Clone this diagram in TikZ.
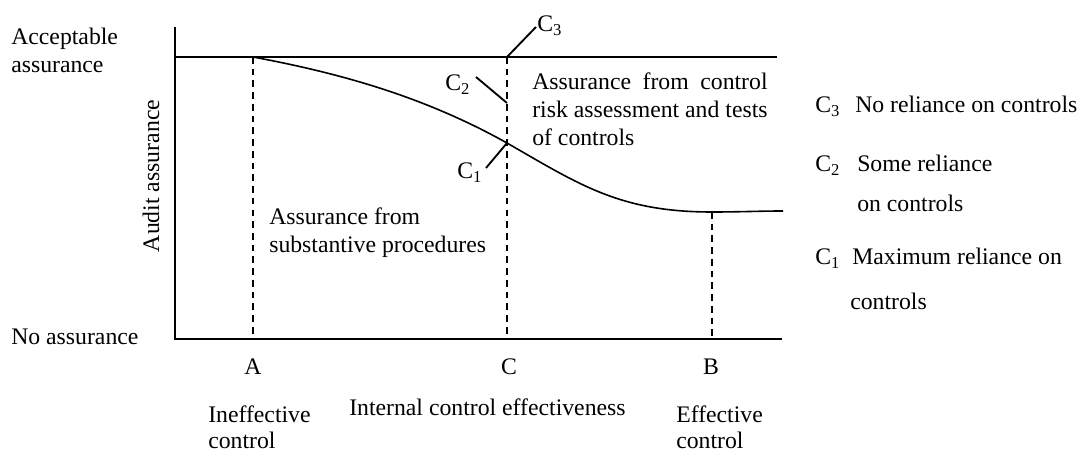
\documentclass[tikz,border=0pt]{standalone}
\usepackage{fontspec}
\setmainfont{Liberation Serif}
\begin{document}
\begin{tikzpicture}[x=0.75pt,y=-0.75pt,
  lbl/.style={font=\fontsize{17.8}{21}\selectfont, inner sep=0pt, anchor=base west},
  mid/.style={lbl, anchor=base},
  axis/.style={line width=1.5pt},
  guide/.style={line width=0.9pt, dash pattern=on 5pt off 3.8pt},
  curve/.style={line width=1.2pt},
  tick/.style={line width=1.4pt}]
\useasboundingbox (0,0) rectangle (1079,452);

% axes and the acceptable-assurance level
\coordinate (ytop) at (175,27);
\coordinate (orig) at (175,339);
\coordinate (xend) at (782,339);
\coordinate (acc) at (175,57);
\coordinate (accend) at (777,57);
\draw[axis] (ytop) -- (orig) -- (xend);
\draw[axis] (acc) -- (accend);

% points along the effectiveness axis
\coordinate (pA) at (253,57);  \coordinate (bA) at (253,339);
\coordinate (pC) at (507,57);  \coordinate (bC) at (507,339);
\coordinate (c1) at (507,143); \coordinate (c2) at (507,103);
\coordinate (pB) at (712,212); \coordinate (bB) at (712,339);
\coordinate (cend) at (783,211);

% dashed guides
\draw[guide] (pA) -- (bA);
\draw[guide] (pC) -- (bC);
\draw[guide] (pB) -- (bB);

% assurance curve
\draw[curve] (pA) .. controls (350,75) and (430,100) .. (c1)
  .. controls (580,185) and (620,212) .. (pB)
  .. controls (740,212) and (760,211) .. (cend);

% pointers for C1, C2, C3
\coordinate (t3) at (536,27);
\coordinate (t2) at (476,77);
\coordinate (t1) at (486,168);
\draw[tick] (pC) -- (t3);
\draw[tick] (t2) -- (c2);
\draw[tick] (c1) -- (t1);

\node[lbl] (lc3) at (537,32) {C\textsubscript{3}};
\node[lbl] (lc2) at (445,91) {C\textsubscript{2}};
\node[lbl] (lc1) at (457,179) {C\textsubscript{1}};

% vertical axis labels
\node[lbl] (acc1) at (11,45) {Acceptable};
\node[lbl] (acc2) at (11,73) {assurance};
\node[lbl] (noas) at (11,345) {No assurance};
\node[mid, rotate=90] (ylab) at (159,176) {Audit assurance};

% region texts (first line spread to the width of the second)
\node[lbl] (ctl1) at (532,90)
  {\setbox0\hbox{risk assessment and tests}\hbox to \wd0{Assurance\hfill from\hfill control}};
\node[lbl] (ctl2) at (532,118) {risk assessment and tests};
\node[lbl] (ctl3) at (532,146) {of controls};
\node[lbl] (sub1) at (269,225) {Assurance from};
\node[lbl] (sub2) at (269,253) {substantive procedures};

% horizontal axis labels
\node[mid] (la) at (253,375) {A};
\node[mid] (lc) at (509,375) {C};
\node[mid] (lb) at (711,375) {B};
\node[lbl] (inef1) at (208,423) {Ineffective};
\node[lbl] (inef2) at (208,449) {control};
\node[lbl] (ice) at (349,416) {Internal control effectiveness};
\node[lbl] (eff1) at (676,423) {Effective};
\node[lbl] (eff2) at (676,449) {control};

% legend
\node[lbl] (k3) at (815,113) {C\textsubscript{3}};
\node[lbl] (k3t) at (855,113) {No reliance on controls};
\node[lbl] (k2) at (815,172) {C\textsubscript{2}};
\node[lbl] (k2t) at (857,172) {Some reliance};
\node[lbl] (k2u) at (857,212) {on controls};
\node[lbl] (k1) at (815,265) {C\textsubscript{1}};
\node[lbl] (k1t) at (852,265) {Maximum reliance on};
\node[lbl] (k1u) at (850,310) {controls};
\end{tikzpicture}
\end{document}
